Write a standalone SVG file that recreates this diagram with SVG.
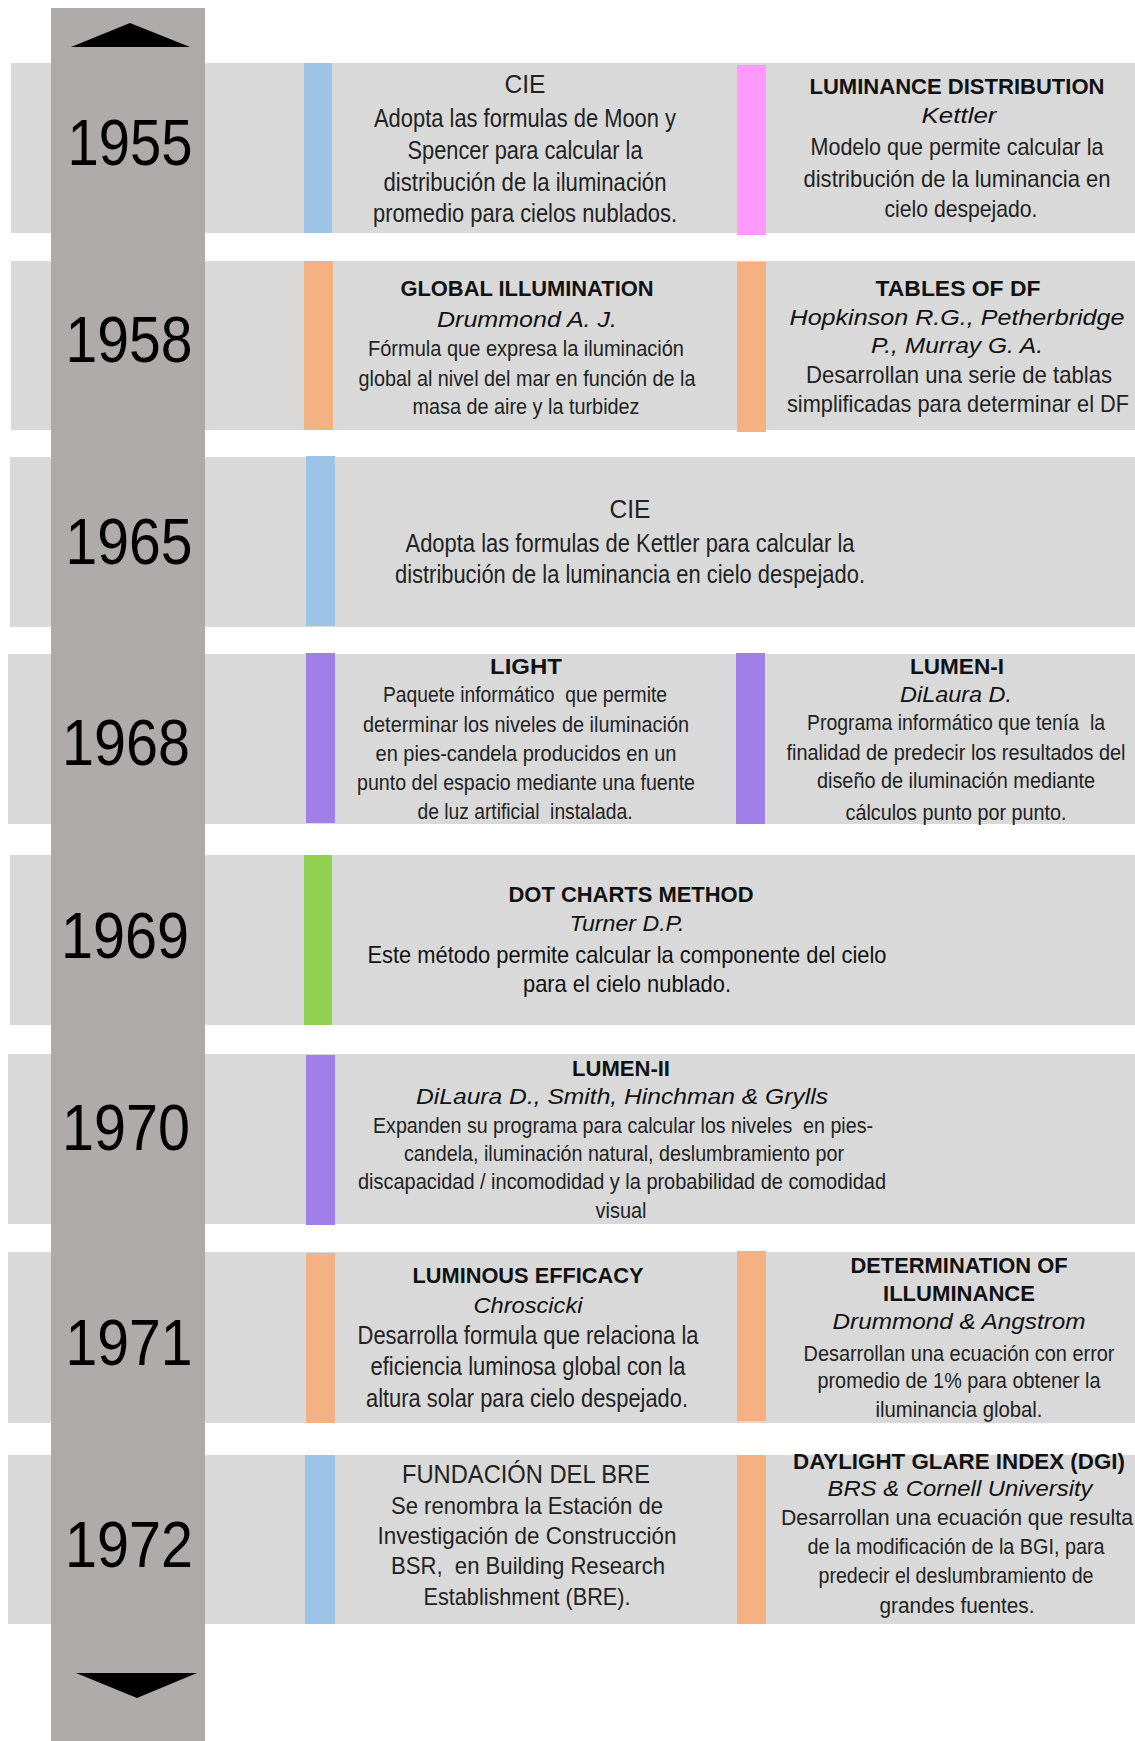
<svg xmlns="http://www.w3.org/2000/svg" width="1135" height="1741" viewBox="0 0 1135 1741">
<style>
.band{fill:#d9d9d9}
.blue{fill:#9dc3e6}
.pink{fill:#ff99fd}
.orange{fill:#f4b183}
.purple{fill:#a07fe8}
.green{fill:#92d050}
.yr{font-family:"Liberation Sans",Arial,sans-serif;font-size:65px;fill:#000;text-anchor:middle}
.t{font-family:"Liberation Sans",Arial,sans-serif;text-anchor:middle;fill:#222}
.s21{font-size:22px}.s22{font-size:23px}.s23{font-size:24px}.s24{font-size:25px}
.b{font-weight:bold;fill:#111;font-size:22px}
.i{font-style:italic;fill:#111;font-size:22px}
</style>
<rect width="1135" height="1741" fill="#ffffff"/>

<g id="n1955">
<rect class="band" x="11" y="63" width="1124" height="170"/>
<rect class="blue" x="304" y="63" width="28" height="170"/>
<rect class="pink" x="737" y="65" width="29" height="170"/>
<g class="t s24">
<text x="525" y="93" textLength="41" lengthAdjust="spacingAndGlyphs">CIE</text>
<text x="525" y="127" textLength="302" lengthAdjust="spacingAndGlyphs">Adopta las formulas de Moon y</text>
<text x="525" y="159" textLength="235" lengthAdjust="spacingAndGlyphs">Spencer para calcular la</text>
<text x="525" y="191" textLength="283" lengthAdjust="spacingAndGlyphs">distribución de la iluminación</text>
<text x="525" y="222" textLength="304" lengthAdjust="spacingAndGlyphs">promedio para cielos nublados.</text>
</g>
<g class="t s23">
<text class="b" x="957" y="94" textLength="295" lengthAdjust="spacingAndGlyphs">LUMINANCE DISTRIBUTION</text>
<text class="i" x="959" y="123" textLength="75" lengthAdjust="spacingAndGlyphs">Kettler</text>
<text x="957" y="155" textLength="293" lengthAdjust="spacingAndGlyphs">Modelo que permite calcular la</text>
<text x="957" y="187" textLength="307" lengthAdjust="spacingAndGlyphs">distribución de la luminancia en</text>
<text x="961" y="217" textLength="153" lengthAdjust="spacingAndGlyphs">cielo despejado.</text>
</g>
</g>

<g id="n1958">
<rect class="band" x="11" y="261" width="1124" height="169"/>
<rect class="orange" x="304" y="261" width="29" height="169"/>
<rect class="orange" x="737" y="262" width="29" height="170"/>
<g class="t s21">
<text class="b" x="527" y="296" textLength="253" lengthAdjust="spacingAndGlyphs">GLOBAL ILLUMINATION</text>
<text class="i" x="527" y="327" textLength="180" lengthAdjust="spacingAndGlyphs">Drummond A. J.</text>
<text x="526" y="356" textLength="316" lengthAdjust="spacingAndGlyphs">Fórmula que expresa la iluminación</text>
<text x="527" y="386" textLength="337" lengthAdjust="spacingAndGlyphs">global al nivel del mar en función de la</text>
<text x="526" y="414" textLength="227" lengthAdjust="spacingAndGlyphs">masa de aire y la turbidez</text>
</g>
<g class="t s23">
<text class="b" x="958" y="296" textLength="165" lengthAdjust="spacingAndGlyphs">TABLES OF DF</text>
<text class="i" x="957" y="325" textLength="335" lengthAdjust="spacingAndGlyphs">Hopkinson R.G., Petherbridge</text>
<text class="i" x="957" y="353" textLength="172" lengthAdjust="spacingAndGlyphs">P., Murray G. A.</text>
<text x="959" y="383" textLength="306" lengthAdjust="spacingAndGlyphs">Desarrollan una serie de tablas</text>
<text x="958" y="412" textLength="342" lengthAdjust="spacingAndGlyphs">simplificadas para determinar el DF</text>
</g>
</g>

<g id="n1965">
<rect class="band" x="10" y="457" width="1125" height="170"/>
<rect class="blue" x="306" y="456" width="29" height="170"/>
<g class="t s24">
<text x="630" y="518" textLength="41" lengthAdjust="spacingAndGlyphs">CIE</text>
<text x="630" y="552" textLength="449" lengthAdjust="spacingAndGlyphs">Adopta las formulas de Kettler para calcular la</text>
<text x="630" y="583" textLength="470" lengthAdjust="spacingAndGlyphs">distribución de la luminancia en cielo despejado.</text>
</g>
</g>

<g id="n1968">
<rect class="band" x="8" y="654" width="1127" height="170"/>
<rect class="purple" x="306" y="653" width="29" height="170"/>
<rect class="purple" x="736" y="653" width="29" height="171"/>
<g class="t s21">
<text class="b" x="526" y="674" textLength="72" lengthAdjust="spacingAndGlyphs">LIGHT</text>
<text x="525" y="702" textLength="284" lengthAdjust="spacingAndGlyphs" xml:space="preserve">Paquete informático  que permite</text>
<text x="526" y="732" textLength="326" lengthAdjust="spacingAndGlyphs">determinar los niveles de iluminación</text>
<text x="526" y="761" textLength="301" lengthAdjust="spacingAndGlyphs">en pies-candela producidos en un</text>
<text x="526" y="790" textLength="338" lengthAdjust="spacingAndGlyphs">punto del espacio mediante una fuente</text>
<text x="525" y="819" textLength="215" lengthAdjust="spacingAndGlyphs" xml:space="preserve">de luz artificial  instalada.</text>
</g>
<g class="t s21">
<text class="b" x="957" y="674" textLength="94" lengthAdjust="spacingAndGlyphs">LUMEN-I</text>
<text class="i" x="956" y="702" textLength="112" lengthAdjust="spacingAndGlyphs">DiLaura D.</text>
<text x="956" y="730" textLength="298" lengthAdjust="spacingAndGlyphs" xml:space="preserve">Programa informático que tenía  la</text>
<text x="956" y="760" textLength="339" lengthAdjust="spacingAndGlyphs">finalidad de predecir los resultados del</text>
<text x="956" y="788" textLength="278" lengthAdjust="spacingAndGlyphs">diseño de iluminación mediante</text>
<text x="956" y="820" textLength="221" lengthAdjust="spacingAndGlyphs">cálculos punto por punto.</text>
</g>
</g>

<g id="n1969">
<rect class="band" x="10" y="855" width="1125" height="170"/>
<rect class="green" x="304" y="855" width="28" height="170"/>
<g class="t s23">
<text class="b" x="631" y="902" textLength="245" lengthAdjust="spacingAndGlyphs">DOT CHARTS METHOD</text>
<text class="i" x="627" y="931" textLength="115" lengthAdjust="spacingAndGlyphs">Turner D.P.</text>
<text x="627" y="963" textLength="519" lengthAdjust="spacingAndGlyphs" fill="#111">Este método permite calcular la componente del cielo</text>
<text x="627" y="992" textLength="208" lengthAdjust="spacingAndGlyphs" fill="#111">para el cielo nublado.</text>
</g>
</g>

<g id="n1970">
<rect class="band" x="8" y="1054" width="1127" height="170"/>
<rect class="purple" x="306" y="1055" width="29" height="170"/>
<g class="t s21">
<text class="b" x="621" y="1076" textLength="98" lengthAdjust="spacingAndGlyphs">LUMEN-II</text>
<text class="i" x="622" y="1104" textLength="412" lengthAdjust="spacingAndGlyphs">DiLaura D., Smith, Hinchman &amp; Grylls</text>
<text x="623" y="1133" textLength="500" lengthAdjust="spacingAndGlyphs" xml:space="preserve">Expanden su programa para calcular los niveles  en pies-</text>
<text x="624" y="1161" textLength="440" lengthAdjust="spacingAndGlyphs">candela, iluminación natural, deslumbramiento por</text>
<text x="622" y="1189" textLength="528" lengthAdjust="spacingAndGlyphs">discapacidad / incomodidad y la probabilidad de comodidad</text>
<text x="621" y="1218" textLength="51" lengthAdjust="spacingAndGlyphs">visual</text>
</g>
</g>

<g id="n1971">
<rect class="band" x="8" y="1252" width="1127" height="171"/>
<rect class="orange" x="306" y="1253" width="29" height="170"/>
<rect class="orange" x="737" y="1251" width="29" height="170"/>
<g class="t s24">
<text class="b" x="528" y="1283" textLength="231" lengthAdjust="spacingAndGlyphs">LUMINOUS EFFICACY</text>
<text class="i" x="528" y="1313" textLength="109" lengthAdjust="spacingAndGlyphs">Chroscicki</text>
<text x="528" y="1344" textLength="341" lengthAdjust="spacingAndGlyphs">Desarrolla formula que relaciona la</text>
<text x="528" y="1375" textLength="315" lengthAdjust="spacingAndGlyphs">eficiencia luminosa global con la</text>
<text x="527" y="1407" textLength="322" lengthAdjust="spacingAndGlyphs">altura solar para cielo despejado.</text>
</g>
<g class="t s21">
<text class="b" x="959" y="1273" textLength="217" lengthAdjust="spacingAndGlyphs">DETERMINATION OF</text>
<text class="b" x="959" y="1301" textLength="152" lengthAdjust="spacingAndGlyphs">ILLUMINANCE</text>
<text class="i" x="959" y="1329" textLength="253" lengthAdjust="spacingAndGlyphs">Drummond &amp; Angstrom</text>
<text x="959" y="1361" textLength="311" lengthAdjust="spacingAndGlyphs">Desarrollan una ecuación con error</text>
<text x="959" y="1388" textLength="283" lengthAdjust="spacingAndGlyphs">promedio de 1% para obtener la</text>
<text x="959" y="1417" textLength="167" lengthAdjust="spacingAndGlyphs">iluminancia global.</text>
</g>
</g>

<g id="n1972">
<rect class="band" x="8" y="1455" width="1127" height="169"/>
<rect class="blue" x="305" y="1455" width="30" height="169"/>
<rect class="orange" x="737" y="1455" width="29" height="169"/>
<g class="t s23">
<text class="s24" x="526" y="1483" textLength="248" lengthAdjust="spacingAndGlyphs">FUNDACIÓN DEL BRE</text>
<text x="527" y="1514" textLength="272" lengthAdjust="spacingAndGlyphs">Se renombra la Estación de</text>
<text x="527" y="1544" textLength="299" lengthAdjust="spacingAndGlyphs">Investigación de Construcción</text>
<text x="528" y="1574" textLength="274" lengthAdjust="spacingAndGlyphs" xml:space="preserve">BSR,  en Building Research</text>
<text x="527" y="1605" textLength="207" lengthAdjust="spacingAndGlyphs">Establishment (BRE).</text>
</g>
<g class="t s21">
<text class="b" x="959" y="1469" textLength="332" lengthAdjust="spacingAndGlyphs">DAYLIGHT GLARE INDEX (DGI)</text>
<text class="i" x="960" y="1496" textLength="265" lengthAdjust="spacingAndGlyphs">BRS &amp; Cornell University</text>
<text x="957" y="1525" textLength="352" lengthAdjust="spacingAndGlyphs">Desarrollan una ecuación que resulta</text>
<text x="956" y="1554" textLength="297" lengthAdjust="spacingAndGlyphs">de la modificación de la BGI, para</text>
<text x="956" y="1583" textLength="275" lengthAdjust="spacingAndGlyphs">predecir el deslumbramiento de</text>
<text x="957" y="1613" textLength="155" lengthAdjust="spacingAndGlyphs">grandes fuentes.</text>
</g>
</g>

<g id="timeline">
<rect x="51" y="8" width="154" height="1733" fill="#afabab"/>
<polygon points="71,47 190,47 130,23" fill="#000"/>
<polygon points="76,1673 197,1673 137,1698" fill="#000"/>
<g class="yr">
<text x="130" y="165" textLength="125" lengthAdjust="spacingAndGlyphs">1955</text>
<text x="129" y="362" textLength="127" lengthAdjust="spacingAndGlyphs">1958</text>
<text x="129" y="564" textLength="127" lengthAdjust="spacingAndGlyphs">1965</text>
<text x="126" y="765" textLength="128" lengthAdjust="spacingAndGlyphs">1968</text>
<text x="125" y="958" textLength="128" lengthAdjust="spacingAndGlyphs">1969</text>
<text x="126" y="1150" textLength="128" lengthAdjust="spacingAndGlyphs">1970</text>
<text x="129" y="1365" textLength="127" lengthAdjust="spacingAndGlyphs">1971</text>
<text x="129" y="1567" textLength="128" lengthAdjust="spacingAndGlyphs">1972</text>
</g>
</g>
</svg>
